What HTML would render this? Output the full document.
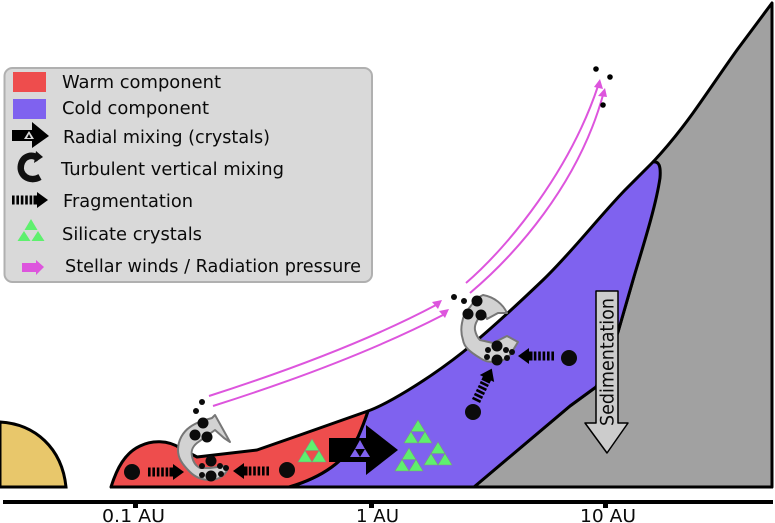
<!DOCTYPE html>
<html><head><meta charset="utf-8"><style>html,body{margin:0;padding:0;background:#fff}svg{display:block}text{font-family:"DejaVu Sans","Liberation Sans",sans-serif;fill:#0a0a0a}</style></head><body>
<svg width="775" height="523" viewBox="0 0 775 523" xmlns="http://www.w3.org/2000/svg">
<defs>
<g id="t"><path d="M0 0L7 11.5H-7Z" fill="#5ef06e" stroke="#7a9a7a" stroke-width=".6"/></g>
<g id="tri"><use href="#t"/><use href="#t" x="-7" y="11.5"/><use href="#t" x="7" y="11.5"/></g>
<g id="frag"><path d="M0 -4.5H2.6V4.5H0ZM4.4 -4.5H7V4.5H4.4ZM8.8 -4.5H11.4V4.5H8.8ZM13.2 -4.5H15.8V4.5H13.2ZM17.6 -4.5H20.2V4.5H17.6Z" fill="#000"/><path d="M21.5 -4.5H25V-8L36 0L25 8V4.5H21.5Z" fill="#000"/></g>
</defs>

<!-- star -->
<path d="M0 422C35 424 62 448 66 487H0Z" fill="#e8c76b" stroke="#000" stroke-width="3"/>

<!-- gray -->
<path d="M474 487L570 406L596 387L618 332L633 280L650 215L660 175L653 162C668 146 680 131 693 113C708 92 722 71 737 50L772 3V487Z" fill="#a1a1a1" stroke="#000" stroke-width="3" stroke-linejoin="round"/>

<!-- blue -->
<path d="M289 487C320 478 345 462 358 437C362 428 365 420 368 411C385 405 425 382 463 352C490 330 520 302 543 280C572 252 598 218 625 190C635 180 644 171 653 162C659 161 661 166 660 178C656 205 645 240 633 280L618 332L596 387L570 406L474 487Z" fill="#7f62ef" stroke="#000" stroke-width="3" stroke-linejoin="round"/>

<!-- red -->
<path d="M111 487C117 468 125 453 140 446C152 440 168 440 180 448L197 457L257 450L300 435L368 411C365 420 362 428 358 437C345 462 320 478 289 487Z" fill="#ee4d4d" stroke="#000" stroke-width="3" stroke-linejoin="round"/>
<path d="M110 487H773" stroke="#000" stroke-width="3"/>

<!-- axis -->
<rect x="3" y="500" width="770" height="4" fill="#000"/>
<rect x="133" y="503" width="5" height="5" fill="#000"/><rect x="369" y="503" width="5" height="5" fill="#000"/><rect x="603" y="503" width="5" height="5" fill="#000"/>
<text x="102" y="522" font-size="18" textLength="63" lengthAdjust="spacingAndGlyphs">0.1 AU</text>
<text x="356" y="522" font-size="18" textLength="43" lengthAdjust="spacingAndGlyphs">1 AU</text>
<text x="580" y="522" font-size="18" textLength="56" lengthAdjust="spacingAndGlyphs">10 AU</text>

<!-- legend -->
<rect x="4.5" y="68" width="367.5" height="214" rx="8" fill="#d9d9d9" stroke="#b0b0b0" stroke-width="2"/>
<rect x="13" y="72" width="33" height="20" fill="#ee4d4d"/>
<rect x="13" y="99" width="33" height="20" fill="#7f62ef"/>
<path d="M12 130H32V122L49 136L32 148V141H12Z" fill="#000"/>
<path d="M29 131L34 139H24Z" fill="#d9d9d9"/><path d="M29 134L31 138H27Z" fill="#000"/>
<path d="M39 159C32 153 23 156 21 165C19 175 29 183 40 177" fill="none" stroke="#111" stroke-width="6.5"/>
<path d="M36 151L43 157L34 163Z" fill="#111"/>
<use href="#frag" transform="translate(12 200)"/>
<path d="M31 219L37.5 230H24.5Z" fill="#5ef06e"/><path d="M24 231L30.5 241H17.5Z" fill="#5ef06e"/><path d="M38 231L44.5 241H31.5Z" fill="#5ef06e"/>
<path d="M22 263H36V260L44 267L36 275V272H22Z" fill="#dd55dd"/>
<text x="62" y="88" font-size="18" textLength="159" lengthAdjust="spacingAndGlyphs">Warm component</text>
<text x="62" y="114" font-size="18" textLength="147" lengthAdjust="spacingAndGlyphs">Cold component</text>
<text x="63" y="143" font-size="18" textLength="207" lengthAdjust="spacingAndGlyphs">Radial mixing (crystals)</text>
<text x="61" y="175" font-size="18" textLength="223" lengthAdjust="spacingAndGlyphs">Turbulent vertical mixing</text>
<text x="63" y="207" font-size="18" textLength="130" lengthAdjust="spacingAndGlyphs">Fragmentation</text>
<text x="62" y="240" font-size="18" textLength="140" lengthAdjust="spacingAndGlyphs">Silicate crystals</text>
<text x="65" y="272" font-size="18" textLength="296" lengthAdjust="spacingAndGlyphs">Stellar winds / Radiation pressure</text>

<!-- crystals -->
<use href="#tri" x="418" y="420"/><use href="#tri" x="438" y="442"/><use href="#tri" x="409" y="448"/><use href="#tri" x="312" y="439"/>

<!-- big arrow -->
<path d="M329 438H366V425L398 450L366 475V462H329Z" fill="#000"/>
<path d="M360 440L365 449H355Z" fill="#7f62ef"/><path d="M355 449L360 457H350Z" fill="#7f62ef"/><path d="M365 449L370 457H360Z" fill="#7f62ef"/>

<!-- pink arrows -->
<g fill="none" stroke="#dd55dd" stroke-width="2">
<path d="M209 396C290 370 370 340 436 305"/>
<path d="M213 406C295 380 375 350 443 315"/>
<path d="M466 283C510 245 570 170 598 86"/>
<path d="M470 293C515 255 578 185 603 95"/>
</g>
<g fill="#dd55dd">
<path d="M442 300L438 309L432 302Z"/><path d="M449 309L445 318L439 311Z"/>
<path d="M600 79L603 89L594 87Z"/><path d="M605 88L607 97L598 96Z"/>
</g>
<g fill="#000"><circle cx="596" cy="69" r="2.8"/><circle cx="610" cy="77" r="2.8"/><circle cx="603" cy="105" r="2.8"/></g>

<!-- left curl -->
<path d="M215 415L230 442L224 438L215 430L197 443C192 447 191 452 192 456C193 462 196 466 200 468L210 468L225 466L228 468C226 474 220 480 210 480C200 480 194 476 190 472C182 464 178 458 178 450C178 440 183 432 190 427C197 422 205 420 212 418Z" fill="#d2d2d2" stroke="#777" stroke-width="2" stroke-linejoin="round"/>
<g fill="#0b0b0b">
<circle cx="203" cy="423" r="5.5"/><circle cx="195" cy="435" r="5.5"/><circle cx="207" cy="437" r="5.5"/>
<circle cx="211" cy="461" r="5.5"/><circle cx="211" cy="476" r="5.5"/>
<circle cx="202" cy="466" r="3"/><circle cx="202" cy="475" r="3"/><circle cx="220" cy="466" r="3"/><circle cx="221" cy="474" r="3"/><circle cx="226" cy="468" r="3"/>
<circle cx="202" cy="402" r="3"/><circle cx="196" cy="411" r="3"/>
<circle cx="132" cy="472" r="8"/><circle cx="287" cy="470" r="8"/>
</g>
<use href="#frag" transform="translate(148 472)"/>
<use href="#frag" transform="translate(269 471) scale(-1 1)"/>

<!-- right curl -->
<path d="M483 295C494 297 503 304 507 313L498 313L487 319L484 312C478 318 474 324 475 330C476 335 478 338 480 340L493 343L507 336L518 342L510 355C505 360 500 362 495 362C488 362 484 361 480 358C470 352 464 347 463 340C461 334 461 328 462 323C463 316 466 311 470 307C474 301 478 297 483 295Z" fill="#d2d2d2" stroke="#777" stroke-width="2" stroke-linejoin="round"/>
<g fill="#0b0b0b">
<circle cx="477" cy="301" r="5.5"/><circle cx="468" cy="314" r="5.5"/><circle cx="481" cy="315" r="5.5"/>
<circle cx="497" cy="346" r="5.5"/><circle cx="497" cy="360" r="5.5"/>
<circle cx="488" cy="350" r="3"/><circle cx="487" cy="357" r="3"/><circle cx="506" cy="350" r="3"/><circle cx="507" cy="358" r="3"/><circle cx="512" cy="352" r="3"/>
<circle cx="454" cy="297" r="3"/><circle cx="464" cy="301" r="3"/>
<circle cx="569" cy="358" r="8"/><circle cx="473" cy="412" r="8"/>
</g>
<use href="#frag" transform="translate(554 356) scale(-1 1)"/>
<use href="#frag" transform="translate(476 401) rotate(-64)"/>

<!-- sedimentation -->
<path d="M596 291H618V423H628L607 453L585 423H596Z" fill="#cccccc" stroke="#000" stroke-width="1.5" stroke-linejoin="round"/>
<text transform="translate(613.5 426) rotate(-90)" font-size="19" textLength="128" lengthAdjust="spacingAndGlyphs">Sedimentation</text>
</svg>
</body></html>
